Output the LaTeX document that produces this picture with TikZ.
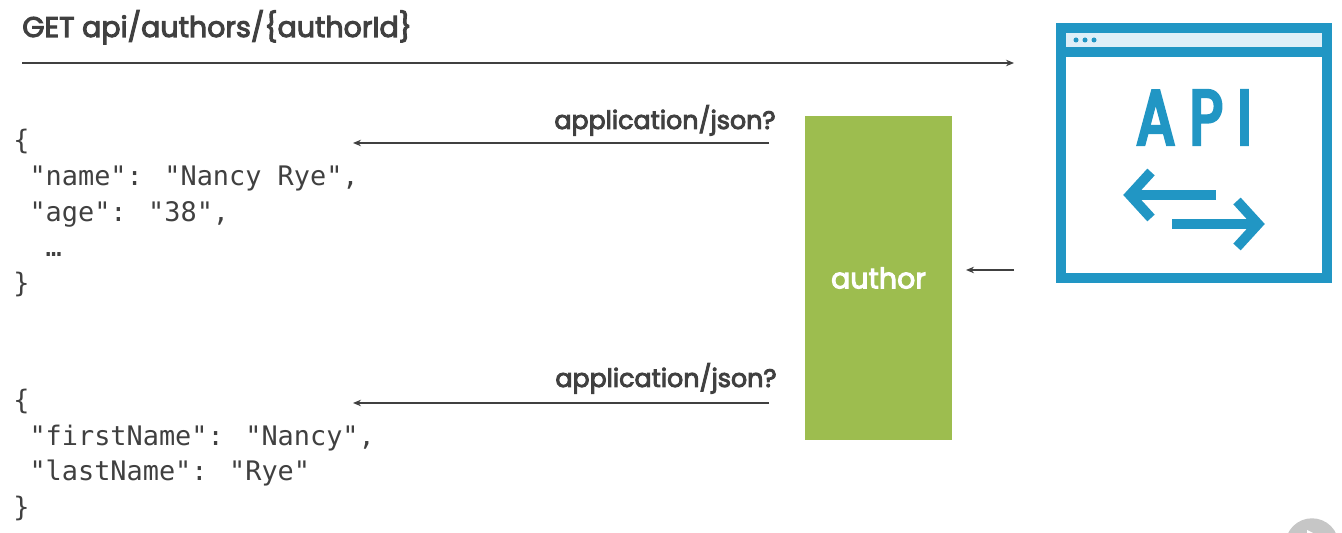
\documentclass[tikz,border=0pt]{standalone}
\usepackage{fontspec}
\usepackage{xcolor}
\usetikzlibrary{positioning,arrows.meta}
\setmainfont{Poppins}
\newfontfamily\medfam[FakeBold=3.6]{Poppins}
\newfontfamily\jsonfam{DejaVu Sans Mono}
\newfontfamily\apifam[LetterSpace=19,FakeBold=4.5,FakeStretch=0.74]{Poppins}
\definecolor{inkcolor}{RGB}{64,64,64}
\definecolor{boxcolor}{RGB}{157,189,79}
\definecolor{apicolor}{RGB}{33,150,196}
\definecolor{barcolor}{RGB}{223,239,248}

\begin{document}
\begin{tikzpicture}[
  head/.style={font=\fontsize{16.2}{18}\selectfont\medfam, text=inkcolor, inner sep=0pt},
  lbl/.style={font=\fontsize{14.4}{16}\selectfont\medfam, text=inkcolor, inner sep=0pt},
  json/.style={font=\fontsize{15.3}{20.4}\selectfont\jsonfam, text=inkcolor, align=left, anchor=west, inner sep=0pt},
  arr/.style={-{Stealth[length=1.6mm,width=1.3mm]}, draw=inkcolor, line width=0.7pt},
  icon/.style={draw=apicolor, line width=2mm},
  iconarr/.style={draw=apicolor, line width=2mm, miter limit=10},
]
\useasboundingbox (0,0) rectangle (26.84,10.66);

% ===== request =====
\node[head, anchor=base west] (req) at (0.44, 9.92) {GET api/authors/\{authorId\}};
\coordinate (reqfrom) at (0.44, 9.40);
\coordinate (reqto) at (20.28, 9.40);
\draw[arr] (reqfrom) -- (reqto);

% ===== representations =====
\node[json] (jsona) at (0.26, 6.40) {\{\\~"name": "Nancy Rye",\\~"age": "38",\\~~…\\\}};
\node[json] (jsonb) at (0.26, 1.56) {\{\\~"firstName": "Nancy",\\~"lastName": "Rye"\\\}};

\node[lbl, anchor=base east] (mta) at (15.52, 8.08) {application/json?};
\node[lbl, anchor=base east] (mtb) at (15.54, 2.92) {application/json?};

\coordinate (afrom) at (15.38, 7.80);
\coordinate (ato) at (7.06, 7.80);
\coordinate (bfrom) at (15.38, 2.60);
\coordinate (bto) at (7.06, 2.60);
\draw[arr] (afrom) -- (ato);
\draw[arr] (bfrom) -- (bto);

% ===== resource =====
\node[fill=boxcolor, minimum width=2.94cm, minimum height=6.48cm, inner sep=0pt,
      font=\fontsize{16.2}{18}\selectfont\medfam, text=white] (author) at (17.57, 5.10) {author};
\coordinate (resfrom) at (20.28, 5.26);
\coordinate (resto) at (19.32, 5.26);
\draw[arr] (resfrom) -- (resto);

% ===== API icon =====
\fill[barcolor] (21.22, 10.10) rectangle (26.54, 9.62);
\draw[icon] (21.22, 10.10) rectangle (26.54, 5.10);
\draw[icon] (21.22, 9.62) -- (26.54, 9.62);
\foreach \x in {21.52, 21.70, 21.88}
  \fill[apicolor] (\x, 9.86) circle (0.05);

\node[font=\fontsize{44}{50}\selectfont\apifam, text=apicolor, inner sep=0pt] (apilbl) at (23.88, 8.31) {API};

\draw[iconarr] (24.32, 6.76) -- (22.60, 6.76);
\draw[iconarr] (23.02, 7.22) -- (22.60, 6.76) -- (23.02, 6.30);
\draw[iconarr] (23.44, 6.18) -- (25.16, 6.18);
\draw[iconarr] (24.74, 6.64) -- (25.16, 6.18) -- (24.74, 5.72);

% ===== play button =====
\clip (0,0) rectangle (26.84,10.66);
\fill[gray!45] (26.24, -0.24) circle (0.534);
\fill[white] (26.14, 0) -- (26.14, 0.06) -- (26.26, 0) -- cycle;

\end{tikzpicture}
\end{document}
